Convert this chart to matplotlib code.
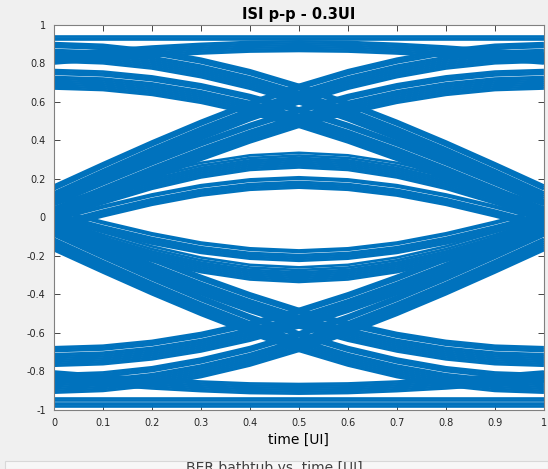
import matplotlib
matplotlib.use("Agg")
from matplotlib import pyplot as plt

# time axis, one value every tenth of a UI
T = [0.0, 0.1, 0.2, 0.3, 0.4, 0.5, 0.6, 0.7, 0.8, 0.9, 1.0]

# upper half of the eye
rail_top = [0.935, 0.935, 0.935, 0.935, 0.935, 0.935, 0.935, 0.935, 0.935, 0.935, 0.935]
rail_arch = [0.80, 0.82, 0.838, 0.852, 0.862, 0.865, 0.862, 0.852, 0.838, 0.82, 0.80]
rise_hi = [0.12, 0.236, 0.349, 0.456, 0.555, 0.643, 0.719, 0.779, 0.824, 0.851, 0.86]
rise_lo = [0.04, 0.146, 0.250, 0.349, 0.440, 0.521, 0.590, 0.646, 0.687, 0.712, 0.72]
fall_hi = [0.86, 0.851, 0.824, 0.779, 0.719, 0.643, 0.555, 0.456, 0.349, 0.236, 0.12]
fall_lo = [0.72, 0.712, 0.687, 0.646, 0.590, 0.521, 0.440, 0.349, 0.250, 0.146, 0.04]
bump_hi = [0.03, 0.113, 0.189, 0.248, 0.287, 0.30, 0.287, 0.248, 0.189, 0.113, 0.03]
bump_lo = [-0.03, 0.036, 0.096, 0.144, 0.174, 0.185, 0.174, 0.144, 0.096, 0.036, -0.03]

# lower half of the eye
rail_bot = [-0.962, -0.962, -0.962, -0.962, -0.962, -0.962, -0.962, -0.962, -0.962, -0.962, -0.962]
rail_arch_b = [-0.80, -0.82, -0.838, -0.852, -0.862, -0.865, -0.862, -0.852, -0.838, -0.82, -0.80]
rise_hi_b = [-0.12, -0.236, -0.349, -0.456, -0.555, -0.643, -0.719, -0.779, -0.824, -0.851, -0.86]
rise_lo_b = [-0.04, -0.146, -0.250, -0.349, -0.440, -0.521, -0.590, -0.646, -0.687, -0.712, -0.72]
fall_hi_b = [-0.86, -0.851, -0.824, -0.779, -0.719, -0.643, -0.555, -0.456, -0.349, -0.236, -0.12]
fall_lo_b = [-0.72, -0.712, -0.687, -0.646, -0.590, -0.521, -0.440, -0.349, -0.250, -0.146, -0.04]
bump_hi_b = [-0.03, -0.112, -0.186, -0.244, -0.282, -0.295, -0.282, -0.244, -0.186, -0.112, -0.03]
bump_lo_b = [0.02, -0.046, -0.106, -0.154, -0.184, -0.195, -0.184, -0.154, -0.106, -0.046, 0.02]

# spread of the traces inside each band
rail_spread = [-0.006, 0.0, 0.006]
rail_spread_b = [-0.018, -0.008, 0.0, 0.014, 0.022]
arch_spread = [0.0, 0.01, 0.02, 0.03, 0.04, 0.05]
trans_spread = [-0.05, -0.04, -0.03, -0.02, -0.01, 0.0, 0.01, 0.026, 0.036, 0.046]
bump_spread = [-0.04, -0.03, -0.02, -0.01, 0.0, 0.01, 0.022, 0.036]
thin_spread = [-0.03, -0.02, -0.01, 0.0, 0.016, 0.024]

x_ticks = [0, 0.1, 0.2, 0.3, 0.4, 0.5, 0.6, 0.7, 0.8, 0.9, 1]
x_labels = ['0', '0.1', '0.2', '0.3', '0.4', '0.5', '0.6', '0.7', '0.8', '0.9', '1']
y_ticks = [-1, -0.8, -0.6, -0.4, -0.2, 0, 0.2, 0.4, 0.6, 0.8, 1]
y_labels = ['-1', '-0.8', '-0.6', '-0.4', '-0.2', '0', '0.2', '0.4', '0.6', '0.8', '1']

BLUE = '#0072BD'


def main():
    fig = plt.figure(figsize=(5.48, 4.69), dpi=100, facecolor='#f0f0f0')
    ax = fig.add_axes([0.0985, 0.1258, 0.894, 0.8209])
    ax.set_facecolor('white')

    bands = [
        (rail_top, rail_spread), (rail_arch, arch_spread),
        (rise_hi, trans_spread), (rise_lo, trans_spread),
        (fall_hi, trans_spread), (fall_lo, trans_spread),
        (bump_hi, bump_spread), (bump_lo, thin_spread),
        (rail_bot, rail_spread_b), (rail_arch_b, [-s for s in arch_spread]),
        (rise_hi_b, trans_spread), (rise_lo_b, trans_spread),
        (fall_hi_b, trans_spread), (fall_lo_b, trans_spread),
        (bump_hi_b, bump_spread), (bump_lo_b, thin_spread),
    ]
    for base, spread in bands:
        for s in spread:
            ax.plot(T, [v + s for v in base], color=BLUE, lw=1.9,
                    solid_capstyle='butt')

    ax.set_xlim(0, 1)
    ax.set_ylim(-1, 1)
    ax.set_xticks(x_ticks)
    ax.set_xticklabels(x_labels)
    ax.set_yticks(y_ticks)
    ax.set_yticklabels(y_labels)
    ax.tick_params(direction='in', top=True, right=True, length=4,
                   width=0.6, labelsize=7, colors='#262626', pad=6)
    for sp in ax.spines.values():
        sp.set_color('#808080')
        sp.set_linewidth(0.8)

    ax.set_title('ISI p-p - 0.3UI', fontsize=10.5, fontweight='bold', pad=4)
    ax.set_xlabel('time [UI]', fontsize=10, labelpad=3)

    # lower panel that is cut off at the bottom of the window
    fig.patches.append(plt.Rectangle((0.01, 0), 0.99, 0.016, transform=fig.transFigure,
                                     facecolor='#f7f7f7', edgecolor='#d8d8d8', lw=0.8))
    fig.text(0.5, -0.012, 'BER bathtub vs. time [UI]', ha='center', va='bottom',
             fontsize=10, color='#404040')

    fig.savefig('out.png', dpi=100, facecolor=fig.get_facecolor())


if __name__ == '__main__':
    main()
